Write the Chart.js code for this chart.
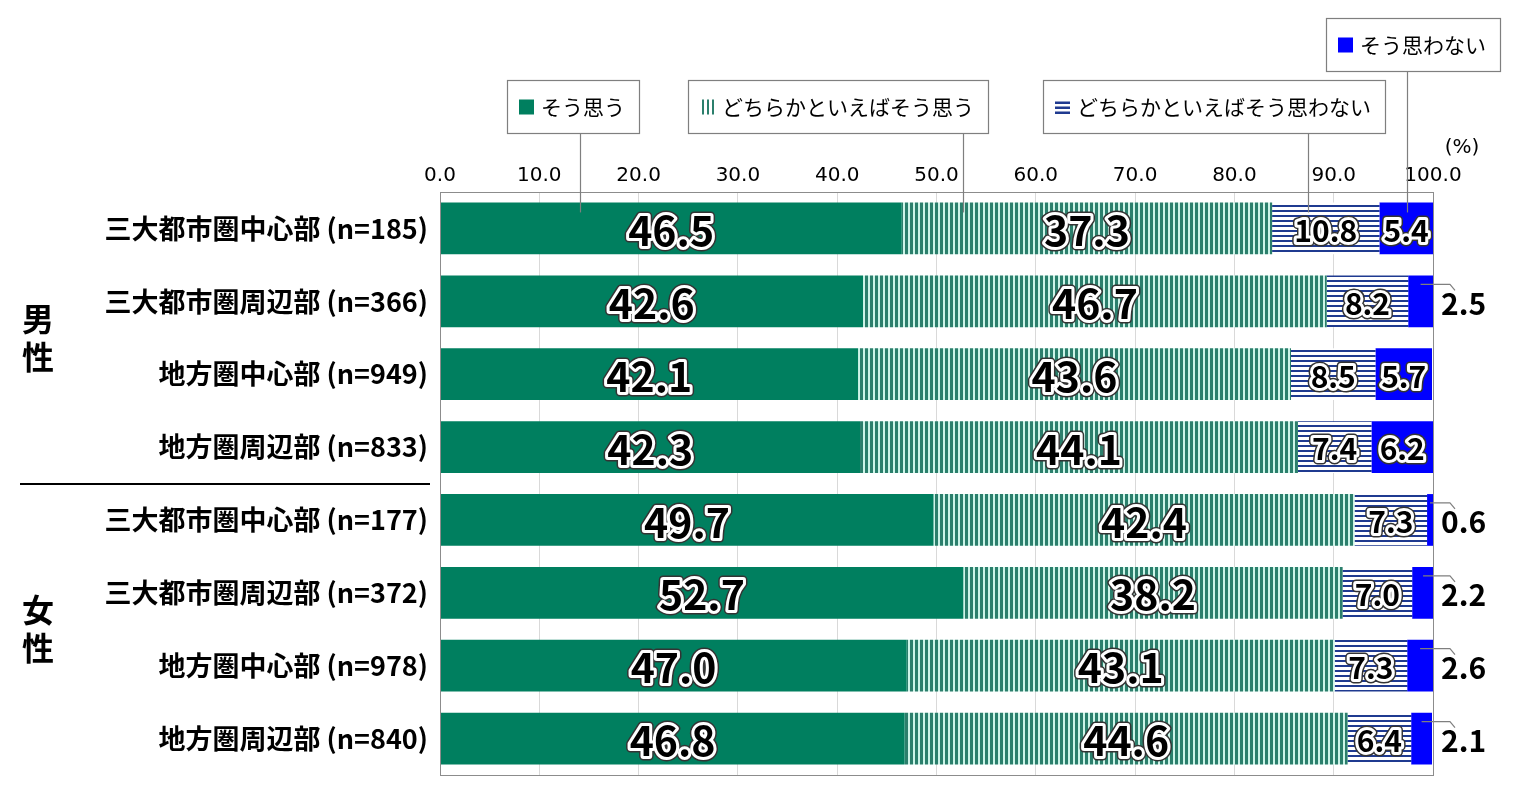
<!DOCTYPE html>
<html lang="ja">
<head>
<meta charset="utf-8">
<title>chart</title>
<script src="https://cdn.jsdelivr.net/npm/chart.js@4.4.1/dist/chart.umd.min.js"></script>
<style>
  html, body { margin: 0; padding: 0; background: #fff; }
  #chart { display: block; }
</style>
</head>
<body>
<canvas id="chart" width="1516" height="786"></canvas>
<script>
// rows, top to bottom
const categories = [
  "三大都市圏中心部 (n=185)",
  "三大都市圏周辺部 (n=366)",
  "地方圏中心部 (n=949)",
  "地方圏周辺部 (n=833)",
  "三大都市圏中心部 (n=177)",
  "三大都市圏周辺部 (n=372)",
  "地方圏中心部 (n=978)",
  "地方圏周辺部 (n=840)",
];
const groupLabels = ["男性", "女性"];
const seriesNames = ["そう思う", "どちらかといえばそう思う", "どちらかといえばそう思わない", "そう思わない"];

const agree = [46.5, 42.6, 42.1, 42.3, 49.7, 52.7, 47.0, 46.8];
const ratherAgree = [37.3, 46.7, 43.6, 44.1, 42.4, 38.2, 43.1, 44.6];
const ratherDisagree = [10.8, 8.2, 8.5, 7.4, 7.3, 7.0, 7.3, 6.4];
const disagree = [5.4, 2.5, 5.7, 6.2, 0.6, 2.2, 2.6, 2.1];

const xMin = 0;
const xMax = 100;
const xStep = 10;

const GREEN = "#007f5f";
const TEAL = "#2b7f6c";
const MINT = "#cdf4e8";
const NAVY = "#1f3a90";
const BLUE = "#0000ff";

const LABEL_FONT = '"Noto Sans CJK JP", "Noto Sans", sans-serif';
const TICK_FONT = '"DejaVu Sans", "Noto Sans", sans-serif';

function makeStripes(vertical, lineColor, bgColor, period, lineWidth) {
  const c = document.createElement("canvas");
  c.width = period;
  c.height = period;
  const g = c.getContext("2d");
  g.fillStyle = bgColor;
  g.fillRect(0, 0, period, period);
  g.fillStyle = lineColor;
  if (vertical) g.fillRect(0, 0, lineWidth, period);
  else g.fillRect(0, 0, period, lineWidth);
  return g.createPattern(c, "repeat");
}

const vStripes = makeStripes(true, TEAL, MINT, 5, 3);
const hStripes = makeStripes(false, NAVY, "#ffffff", 5, 2);

// outlined numbers on the bars, small "disagree" values go outside with a leader
const valueLabels = {
  id: "valueLabels",
  afterDatasetsDraw(chart) {
    const ctx = chart.ctx;
    const right = chart.chartArea.right;
    ctx.save();
    ctx.lineJoin = "round";
    chart.data.datasets.forEach((ds, di) => {
      const meta = chart.getDatasetMeta(di);
      meta.data.forEach((bar, i) => {
        const v = ds.data[i];
        const text = v.toFixed(1);
        const cx = (bar.x + bar.base) / 2;
        const cy = bar.y;
        const size = di < 2 ? 41 : 30;
        ctx.font = "bold " + size + "px " + LABEL_FONT;
        ctx.textBaseline = "middle";
        if (di === 3 && v < 5) {
          ctx.strokeStyle = "#7f7f7f";
          ctx.lineWidth = 1.2;
          ctx.beginPath();
          ctx.moveTo(cx, cy - 17);
          ctx.lineTo(right + 17, cy - 17);
          ctx.lineTo(right + 22, cy - 11);
          ctx.stroke();
          ctx.fillStyle = "#000";
          ctx.textAlign = "left";
          ctx.fillText(text, right + 8, cy + 2);
          return;
        }
        ctx.textAlign = "center";
        ctx.strokeStyle = "#333";
        ctx.lineWidth = 9;
        ctx.strokeText(text, cx, cy + 2);
        ctx.strokeStyle = "#fff";
        ctx.lineWidth = 6;
        ctx.strokeText(text, cx, cy + 2);
        ctx.fillStyle = "#000";
        ctx.fillText(text, cx, cy + 2);
      });
    });
    ctx.restore();
  },
};

// frame, group labels, divider, callout legend
const decorations = {
  id: "decorations",
  afterDraw(chart, args, opts) {
    const ctx = chart.ctx;
    const area = chart.chartArea;
    const xs = chart.scales.x;
    const ys = chart.scales.y;
    ctx.save();

    ctx.strokeStyle = "#8c8c8c";
    ctx.lineWidth = 1;
    ctx.strokeRect(area.left + 0.5, area.top + 0.5, area.right - area.left, area.bottom - area.top);

    ctx.fillStyle = "#000";
    ctx.font = "20px " + TICK_FONT;
    ctx.textAlign = "center";
    ctx.textBaseline = "middle";
    ctx.fillText("(%)", area.right + 29, 148);

    // 男性 / 女性
    ctx.font = "bold 32px " + LABEL_FONT;
    groupLabels.forEach((g, k) => {
      const cy = ys.getPixelForValue(k * 4 + 1.5);
      ctx.fillText(g[0], 38, cy - 19);
      ctx.fillText(g[1], 38, cy + 19);
    });

    const yDiv = Math.round(ys.getPixelForValue(3.5));
    ctx.strokeStyle = "#000";
    ctx.lineWidth = 2;
    ctx.beginPath();
    ctx.moveTo(20, yDiv);
    ctx.lineTo(430, yDiv);
    ctx.stroke();

    // callout boxes
    const barTop = chart.getDatasetMeta(0).data[0].y - 26;
    opts.callouts.forEach((c) => {
      ctx.font = "21px " + LABEL_FONT;
      const label = seriesNames[c.series];
      const tw = ctx.measureText(label).width;
      const w = 12 + 16 + 6 + tw + 14;
      const h = 53;
      const ax = Math.round(xs.getPixelForValue(c.anchor)) + 0.5;
      ctx.strokeStyle = "#7f7f7f";
      ctx.lineWidth = 1.2;
      ctx.beginPath();
      ctx.moveTo(ax, c.y + h);
      ctx.lineTo(ax, barTop + 10);
      ctx.stroke();
      ctx.fillStyle = "#fff";
      ctx.fillRect(c.x, c.y, w, h);
      ctx.strokeRect(c.x + 0.5, c.y + 0.5, w, h);
      const mx = c.x + 12;
      const my = c.y + h / 2 - 8;
      if (c.series === 0 || c.series === 3) {
        ctx.fillStyle = c.series === 0 ? GREEN : BLUE;
        ctx.fillRect(mx, my + 1, 15, 15);
      } else if (c.series === 1) {
        ctx.fillStyle = TEAL;
        for (let k = 0; k < 3; k++) ctx.fillRect(mx + 2 + k * 5, my + 1, 2, 15);
      } else {
        ctx.fillStyle = NAVY;
        for (let k = 0; k < 3; k++) ctx.fillRect(mx, my + 3 + k * 5, 15, 2.5);
      }
      ctx.fillStyle = "#000";
      ctx.textAlign = "left";
      ctx.textBaseline = "middle";
      ctx.fillText(label, mx + 22, c.y + h / 2 + 1);
    });

    ctx.restore();
  },
};

const seriesData = [agree, ratherAgree, ratherDisagree, disagree];
const seriesFill = [GREEN, vStripes, hStripes, BLUE];

new Chart(document.getElementById("chart"), {
  type: "bar",
  data: {
    labels: categories,
    datasets: seriesData.map((d, i) => ({
      label: seriesNames[i],
      data: d,
      backgroundColor: seriesFill[i],
      borderWidth: 0,
      barPercentage: 0.71,
      categoryPercentage: 1,
    })),
  },
  options: {
    indexAxis: "y",
    responsive: false,
    animation: false,
    layout: {
      padding: { top: 140, right: 83, bottom: 11, left: 0 },
    },
    plugins: {
      legend: { display: false },
      tooltip: { enabled: false },
      decorations: {
        callouts: [
          { series: 0, x: 507, y: 80, anchor: 14.1 },
          { series: 1, x: 688, y: 80, anchor: 52.7 },
          { series: 2, x: 1043, y: 80, anchor: 87.4 },
          { series: 3, x: 1326, y: 18, anchor: 97.4 },
        ],
      },
    },
    scales: {
      x: {
        position: "top",
        stacked: true,
        min: xMin,
        max: xMax,
        afterFit(scale) {
          scale.height = 52;
          scale.paddingLeft = 0;
          scale.paddingRight = 0;
        },
        grid: { color: "#d9d9d9", drawTicks: false },
        border: { color: "#8c8c8c" },
        ticks: {
          stepSize: xStep,
          padding: 4,
          color: "#000",
          font: { family: TICK_FONT, size: 20 },
          callback: (v) => Number(v).toFixed(1),
        },
      },
      y: {
        stacked: true,
        afterFit(scale) {
          scale.width = 440;
          scale.paddingTop = 0;
          scale.paddingBottom = 0;
        },
        grid: { display: false },
        border: { color: "#8c8c8c" },
        ticks: {
          padding: 4,
          color: "#000",
          font: { family: LABEL_FONT, size: 27, weight: "bold" },
        },
      },
    },
  },
  plugins: [valueLabels, decorations],
});
</script>
</body>
</html>
